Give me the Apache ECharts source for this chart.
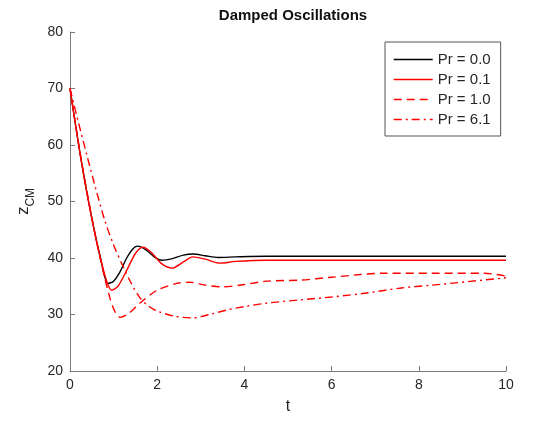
<!DOCTYPE html>
<html>
<head>
<meta charset="utf-8">
<script src="https://cdn.jsdelivr.net/npm/echarts@6/dist/echarts.min.js"></script>
<style>html,body{margin:0;padding:0;background:#fff}#c{width:535px;height:430px}</style>
</head>
<body>
<div id="c"></div>
<script>
const seriesNames = ['Pr = 0.0', 'Pr = 0.1', 'Pr = 1.0', 'Pr = 6.1'];
const xTicks = [0, 2, 4, 6, 8, 10];
const yTicks = [20, 30, 40, 50, 60, 70, 80];

const tPr00 = [0, 0.25, 0.5, 0.7, 0.87, 1.0, 1.15, 1.3, 1.45, 1.56, 1.75, 1.95, 2.1, 2.35, 2.6, 2.82, 3.1, 3.4, 3.8, 4.5, 6, 8, 10];
const zPr00 = [70, 57.6, 47.0, 40.0, 35.5, 35.9, 37.6, 40.0, 41.7, 42.1, 41.4, 40.1, 39.6, 39.9, 40.5, 40.7, 40.4, 40.1, 40.2, 40.3, 40.3, 40.3, 40.3];

const tPr01 = [0, 0.25, 0.5, 0.72, 0.96, 1.1, 1.3, 1.5, 1.67, 1.85, 2.1, 2.34, 2.6, 2.82, 3.1, 3.44, 3.8, 4.5, 6, 8, 10];
const zPr01 = [70, 57.6, 47.0, 39.3, 34.3, 35.0, 37.8, 40.8, 41.9, 41.1, 39.0, 38.2, 39.3, 40.2, 39.8, 39.1, 39.4, 39.6, 39.6, 39.6, 39.6];

const tPr10 = [0, 0.25, 0.5, 0.72, 0.92, 1.05, 1.15, 1.35, 1.6, 2.0, 2.45, 2.75, 3.1, 3.5, 4.0, 4.5, 5.3, 6.0, 7.2, 8.3, 9.5, 10];
const zPr10 = [70, 57.8, 47.2, 39.0, 32.8, 30.2, 29.5, 30.2, 32.0, 34.3, 35.5, 35.7, 35.2, 34.9, 35.3, 35.9, 36.1, 36.6, 37.3, 37.3, 37.3, 36.8];

const tPr61 = [0, 0.2, 0.4, 0.6, 0.8, 1.0, 1.2, 1.4, 1.6, 1.8, 2.0, 2.4, 2.8, 3.2, 3.6, 4.0, 4.5, 5.3, 6.0, 6.8, 7.6, 8.3, 9.1, 10];
const zPr61 = [70, 63.8, 57.8, 52.0, 46.6, 42.3, 38.8, 35.6, 33.0, 31.5, 30.6, 29.7, 29.4, 30.0, 30.8, 31.4, 32.0, 32.6, 33.1, 33.8, 34.7, 35.2, 35.8, 36.5];

function pairs(t, z) { return t.map((v, i) => [v, z[i]]); }

const chart = echarts.init(document.getElementById('c'), null, {renderer: 'canvas'});
const fontFam = 'Liberation Sans, Arial, sans-serif';
const axisCol = '#7a7a7a';
const textCol = '#262626';

function mk(name, t, z, color, type) {
  return {
    name: name, type: 'line', data: pairs(t, z), showSymbol: false, symbol: 'none',
    smooth: 0.3, lineStyle: {color: color, width: 1.4, type: type}, itemStyle: {color: color},
    animation: false
  };
}

chart.setOption({
  animation: false,
  backgroundColor: '#fff',
  title: {
    text: 'Damped Oscillations', left: 288, top: 3, textAlign: 'center',
    textStyle: {fontFamily: fontFam, fontSize: 15, fontWeight: 'bold', color: '#111'}
  },
  grid: {left: 70, right: 29, top: 32, bottom: 59},
  legend: {
    left: 385, top: 42, orient: 'vertical',
    padding: [10, 10, 9, 8], itemWidth: 39, itemHeight: 14, itemGap: 5,
    borderColor: '#555', borderWidth: 1, backgroundColor: '#fff',
    itemStyle: {opacity: 0, borderWidth: 0},
    lineStyle: {width: 1.4},
    textStyle: {fontFamily: fontFam, fontSize: 15, color: textCol},
    data: seriesNames
  },
  xAxis: {
    type: 'value', min: xTicks[0], max: xTicks[xTicks.length - 1], interval: 2,
    name: 't', nameLocation: 'middle', nameGap: 28,
    nameTextStyle: {fontFamily: fontFam, fontSize: 16, color: textCol},
    axisLine: {lineStyle: {color: axisCol, width: 1}},
    axisTick: {inside: true, length: 5, lineStyle: {color: axisCol}},
    axisLabel: {fontFamily: fontFam, fontSize: 14, color: textCol, margin: 7},
    splitLine: {show: false}
  },
  yAxis: {
    type: 'value', min: yTicks[0], max: yTicks[yTicks.length - 1], interval: 10,
    name: '{z|z}{s|CM}', nameLocation: 'middle', nameGap: 38, nameRotate: 90,
    nameTextStyle: {
      fontFamily: fontFam, color: textCol,
      rich: {
        z: {fontFamily: fontFam, fontSize: 17, color: textCol, verticalAlign: 'bottom'},
        s: {fontFamily: fontFam, fontSize: 12, color: textCol, verticalAlign: 'bottom', padding: [0, 0, -5, 0]}
      }
    },
    axisLine: {show: true, lineStyle: {color: axisCol, width: 1}},
    axisTick: {show: true, inside: true, length: 5, lineStyle: {color: axisCol}},
    axisLabel: {fontFamily: fontFam, fontSize: 14, color: textCol, margin: 7},
    splitLine: {show: false}
  },
  series: [
    mk(seriesNames[0], tPr00, zPr00, '#000000', 'solid'),
    mk(seriesNames[1], tPr01, zPr01, '#ff0000', 'solid'),
    mk(seriesNames[2], tPr10, zPr10, '#ff0000', [8, 5]),
    mk(seriesNames[3], tPr61, zPr61, '#ff0000', [8, 4, 2, 4])
  ]
});
</script>
</body>
</html>
